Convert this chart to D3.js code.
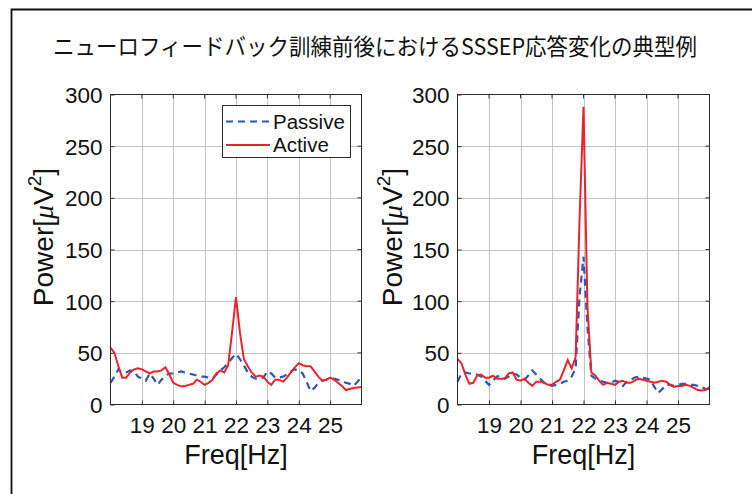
<!DOCTYPE html>
<html>
<head>
<meta charset="utf-8">
<script src="https://cdn.jsdelivr.net/npm/d3@7/dist/d3.min.js"></script>
<style>
html,body{margin:0;padding:0;background:#fff;}
svg{display:block;}
text{font-family:"Liberation Sans",Arial,Helvetica,sans-serif;fill:#111;}
</style>
</head>
<body>
<svg id="chart" width="752" height="494"></svg>
<script>
// ---- data ----
const titleText = "ニューロフィードバック訓練前後におけるSSSEP応答変化の典型例";
const xTicks = [19, 20, 21, 22, 23, 24, 25];
const yTicks = [0, 50, 100, 150, 200, 250, 300];
const seriesNames = ["Passive", "Active"];
const freq = [18, 18.125, 18.25, 18.375, 18.5, 18.625, 18.75, 18.875,
  19, 19.125, 19.25, 19.375, 19.5, 19.625, 19.75, 19.875,
  20, 20.125, 20.25, 20.375, 20.5, 20.625, 20.75, 20.875,
  21, 21.125, 21.25, 21.375, 21.5, 21.625, 21.75, 21.875,
  22, 22.125, 22.25, 22.375, 22.5, 22.625, 22.75, 22.875,
  23, 23.125, 23.25, 23.375, 23.5, 23.625, 23.75, 23.875,
  24, 24.125, 24.25, 24.375, 24.5, 24.625, 24.75, 24.875,
  25, 25.125, 25.25, 25.375, 25.5, 25.625, 25.75, 25.875, 26];
// left panel
const leftPassive = [21, 27, 34, 31, 31, 33, 32, 27,
  25, 23, 30, 25, 19, 24, 28, 30,
  30, 31, 32, 31, 30, 29, 28, 27,
  27, 26, 25, 29, 33, 36, 40, 45,
  49, 44, 38, 31, 27, 25, 25, 26,
  32, 30, 26, 26, 27, 29, 32, 34,
  33, 30, 22, 13, 16, 21, 23, 24,
  25, 25, 24, 23, 21, 20, 18, 22, 27];
const leftActive = [55, 50, 37, 26, 26, 31, 34, 35,
  34, 32, 30, 32, 32, 33, 36, 29,
  21, 19, 17.5, 18, 19, 20, 24, 22,
  19, 21, 24, 30, 33, 31, 38, 70,
  104, 70, 44, 37, 31, 27, 28, 27,
  22, 19, 24, 24, 22, 26, 31, 36,
  40, 38, 37, 37, 32, 27, 23, 24,
  26, 24, 21, 18, 14, 15, 16, 16.5, 17];
// right panel
const rightPassive = [22, 30, 31, 30, 30, 29, 27, 23,
  19, 23, 27, 28, 25, 27, 30, 29,
  26, 24, 28, 33, 29, 25, 21, 19,
  18, 19, 20, 22, 23, 27, 35, 105,
  143, 75, 28, 25, 23, 22, 21, 21,
  23, 22, 18, 22, 24, 26, 27, 26,
  25, 24, 17, 11, 15, 19, 19, 18,
  19, 20, 20, 19, 19, 18, 17, 15, 15];
const rightActive = [44, 40, 29, 20, 21, 28, 29, 26,
  26, 28, 25, 25, 25, 30, 31, 24,
  23, 25, 21, 18, 22, 22, 21, 19,
  19, 22, 24, 33, 43, 35, 46, 180,
  288, 95, 31, 28, 23, 19, 21, 20,
  19, 22, 23, 21, 21, 23, 25, 24,
  23, 22, 21, 22, 23, 22, 19, 17,
  18, 18, 19, 18, 16, 14, 13.5, 14, 17];

const panels = [
  {x0: 110, x1: 361, passive: leftPassive, active: leftActive, legend: true, ylabX: 43},
  {x0: 457, x1: 709, passive: rightPassive, active: rightActive, legend: false, ylabX: 392}
];

const svg = d3.select("#chart");
const Y0 = 404.5, Y1 = 94.5;
const colPassive = "#2f55b5", colActive = "#e8252c";

// outer frame (left and top edges)
svg.append("path").attr("d", "M11.5,494 L11.5,9.5 L752,9.5")
  .attr("fill", "none").attr("stroke", "#111").attr("stroke-width", 1.8);

svg.append("text").attr("x", 375).attr("y", 45)
  .attr("text-anchor", "middle").attr("dominant-baseline", "central")
  .attr("textLength", 644).attr("lengthAdjust", "spacingAndGlyphs")
  .style("font-family", "'Noto Sans CJK JP','Noto Sans',sans-serif")
  .style("font-size", "23px").text(titleText);

panels.forEach((p, pi) => {
  const x = d3.scaleLinear().domain([18, 26]).range([p.x0 + 0.5, p.x1 + 0.5]);
  const y = d3.scaleLinear().domain([0, 300]).range([Y0, Y1]);
  const g = svg.append("g");

  // grid
  g.append("g").selectAll("line").data(xTicks).join("line")
    .attr("x1", d => Math.round(x(d)) + 0.5).attr("x2", d => Math.round(x(d)) + 0.5)
    .attr("y1", Y1).attr("y2", Y0).attr("stroke", "#c4c4c4").attr("stroke-width", 1);
  g.append("g").selectAll("line").data(yTicks.slice(1, -1)).join("line")
    .attr("y1", d => Math.round(y(d)) + 0.5).attr("y2", d => Math.round(y(d)) + 0.5)
    .attr("x1", x(18)).attr("x2", x(26)).attr("stroke", "#c4c4c4").attr("stroke-width", 1);

  // axes via d3
  const xAxis = d3.axisBottom(x).tickValues(xTicks).tickSize(-4).tickPadding(13).tickFormat(d3.format("d"));
  const yAxis = d3.axisLeft(y).tickValues(yTicks).tickSize(-4).tickPadding(8);
  const xa = g.append("g").attr("transform", `translate(0,${Y0})`).call(xAxis);
  const ya = g.append("g").attr("transform", `translate(${x(18)},0)`).call(yAxis);
  [xa, ya].forEach(a => {
    a.select(".domain").remove();
    a.selectAll(".tick line").attr("stroke", "#333");
    a.selectAll(".tick text").style("font-size", "22.5px").attr("fill", "#111");
  });
  xa.selectAll(".tick text").attr("dy", "0.71em");
  ya.selectAll(".tick text").attr("dy", "0.36em");
  // top/right ticks
  g.append("g").selectAll("line").data(xTicks).join("line")
    .attr("x1", d => x(d)).attr("x2", d => x(d)).attr("y1", Y1).attr("y2", Y1 + 4).attr("stroke", "#333");
  g.append("g").selectAll("line").data(yTicks).join("line")
    .attr("x1", x(26)).attr("x2", x(26) - 4).attr("y1", d => y(d)).attr("y2", d => y(d)).attr("stroke", "#333");

  // data lines
  const line = d3.line().x((d, i) => x(freq[i])).y(d => y(d));
  g.append("path").datum(p.passive).attr("d", line).attr("fill", "none")
    .attr("stroke", colPassive).attr("stroke-width", 2.2).attr("stroke-dasharray", "7,5");
  g.append("path").datum(p.active).attr("d", line).attr("fill", "none")
    .attr("stroke", colActive).attr("stroke-width", 2);

  // box
  g.append("rect").attr("x", x(18)).attr("y", Y1).attr("width", x(26) - x(18)).attr("height", Y0 - Y1)
    .attr("fill", "none").attr("stroke", "#2b2b2b").attr("stroke-width", 1);

  // axis labels
  g.append("text").attr("x", (x(18) + x(26)) / 2).attr("y", 464).attr("text-anchor", "middle")
    .style("font-size", "27px").text("Freq[Hz]");
  const yl = g.append("text").attr("transform", `translate(${p.ylabX + 10},237) rotate(-90)`)
    .attr("text-anchor", "middle").style("font-size", "28px");
  yl.append("tspan").text("Power[");
  yl.append("tspan").style("font-family", "'Liberation Serif','Times New Roman',serif").style("font-style", "italic").text("μ");
  yl.append("tspan").text("V");
  yl.append("tspan").attr("dy", -12).style("font-size", "19px").text("2");
  yl.append("tspan").attr("dy", 12).text("]");

  if (p.legend) {
    const lg = g.append("g");
    lg.append("rect").attr("x", 222.5).attr("y", 105.5).attr("width", 128).attr("height", 52)
      .attr("fill", "#fff").attr("stroke", "#2b2b2b").attr("stroke-width", 1);
    const rows = [{name: seriesNames[0], c: colPassive, dash: "7,5", y: 121.5},
                  {name: seriesNames[1], c: colActive, dash: null, y: 145}];
    rows.forEach(r => {
      lg.append("line").attr("x1", 226).attr("x2", 270).attr("y1", r.y).attr("y2", r.y)
        .attr("stroke", r.c).attr("stroke-width", 2).attr("stroke-dasharray", r.dash);
      lg.append("text").attr("x", 273).attr("y", r.y).attr("dy", "0.36em")
        .style("font-size", "20.5px").text(r.name);
    });
  }
});
</script>
</body>
</html>
